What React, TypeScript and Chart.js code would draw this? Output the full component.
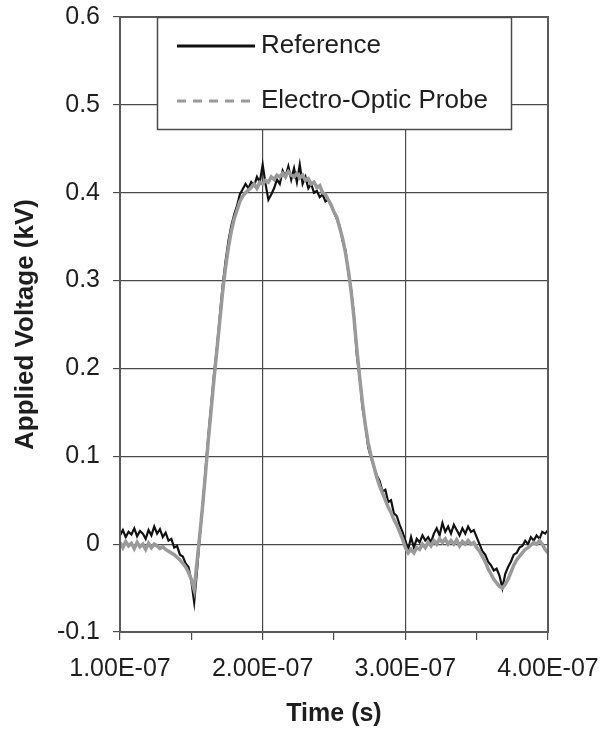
import React, { useEffect, useRef } from "react";
import { Chart, registerables } from "chart.js";

Chart.register(...registerables);

// Time in ns (label shown in seconds)
const timeNs: number[] = [
  100, 102, 104, 106, 108, 110, 112, 114, 116, 118,
  120, 122, 124, 126, 128, 130, 132, 134, 136, 138,
  140, 142, 144, 146, 148, 150, 152, 154, 156, 158,
  160, 162, 164, 166, 168, 170, 172, 174, 176, 178,
  180, 182, 184, 186, 188, 190, 192, 194, 196, 198,
  200, 202, 204, 206, 208, 210, 212, 214, 216, 218,
  220, 222, 224, 226, 228, 230, 232, 234, 236, 238,
  240, 242, 244, 246, 248, 250, 252, 254, 256, 258,
  260, 262, 264, 266, 268, 270, 272, 274, 276, 278,
  280, 282, 284, 286, 288, 290, 292, 294, 296, 298,
  300, 302, 304, 306, 308, 310, 312, 314, 316, 318,
  320, 322, 324, 326, 328, 330, 332, 334, 336, 338,
  340, 342, 344, 346, 348, 350, 352, 354, 356, 358,
  360, 362, 364, 366, 368, 370, 372, 374, 376, 378,
  380, 382, 384, 386, 388, 390, 392, 394, 396, 398,
  400,
];

const referenceKV: number[] = [
  0.010, 0.016, 0.008, 0.014, 0.011, 0.018, 0.009, 0.015, 0.012, 0.006,
  0.016, 0.010, 0.020, 0.012, 0.017, 0.008, 0.013, 0.004, 0.006, -0.004,
  -0.002, -0.012, -0.014, -0.022, -0.026, -0.042, -0.066, -0.030, 0.010, 0.045,
  0.085, 0.125, 0.160, 0.195, 0.225, 0.260, 0.295, 0.322, 0.345, 0.362,
  0.375, 0.385, 0.398, 0.404, 0.410, 0.405, 0.412, 0.408, 0.418, 0.412,
  0.432, 0.410, 0.392, 0.398, 0.405, 0.415, 0.410, 0.425, 0.418, 0.430,
  0.415, 0.428, 0.412, 0.432, 0.410, 0.418, 0.405, 0.410, 0.400, 0.402,
  0.395, 0.398, 0.390, 0.392, 0.385, 0.378, 0.370, 0.362, 0.345, 0.335,
  0.310, 0.290, 0.260, 0.215, 0.190, 0.155, 0.135, 0.110, 0.098, 0.088,
  0.078, 0.072, 0.060, 0.062, 0.048, 0.050, 0.035, 0.032, 0.022, 0.014,
  0.004, -0.006, 0.008, -0.004, 0.006, 0.002, 0.010, 0.004, 0.008, 0.002,
  0.012, 0.018, 0.010, 0.024, 0.014, 0.020, 0.012, 0.022, 0.016, 0.010,
  0.018, 0.012, 0.020, 0.014, 0.016, 0.008, 0.000, -0.008, -0.012, -0.020,
  -0.024, -0.030, -0.028, -0.036, -0.050, -0.034, -0.026, -0.020, -0.012, -0.010,
  -0.004, -0.002, 0.004, 0.000, 0.008, 0.004, 0.010, 0.006, 0.014, 0.012,
  0.016,
];

const probeKV: number[] = [
  0.002, -0.004, 0.003, -0.002, 0.001, -0.005, 0.002, -0.003, 0.000, -0.006,
  0.001, -0.004, 0.000, -0.002, -0.005, -0.003, -0.006, -0.008, -0.010, -0.012,
  -0.015, -0.018, -0.022, -0.026, -0.032, -0.040, -0.052, -0.020, 0.012, 0.045,
  0.082, 0.120, 0.155, 0.190, 0.222, 0.255, 0.288, 0.315, 0.338, 0.356,
  0.370, 0.380, 0.390, 0.396, 0.400, 0.403, 0.406, 0.410, 0.405, 0.412,
  0.410, 0.414, 0.412, 0.418, 0.415, 0.420, 0.418, 0.422, 0.418, 0.424,
  0.420, 0.418, 0.422, 0.417, 0.420, 0.414, 0.416, 0.410, 0.412, 0.406,
  0.408, 0.400, 0.398, 0.392, 0.386, 0.378, 0.372, 0.360, 0.348, 0.332,
  0.312, 0.288, 0.258, 0.222, 0.190, 0.160, 0.135, 0.115, 0.100, 0.088,
  0.076, 0.066, 0.058, 0.050, 0.042, 0.036, 0.028, 0.022, 0.014, 0.006,
  -0.004, -0.010, -0.006, -0.010, -0.004, -0.006, 0.000, -0.004, 0.002, -0.002,
  0.004, 0.000, 0.006, 0.002, 0.006, 0.000, 0.004, 0.000, 0.005, -0.002,
  0.003, 0.000, 0.004, 0.000, 0.002, -0.004, -0.008, -0.014, -0.020, -0.028,
  -0.034, -0.040, -0.044, -0.048, -0.050, -0.046, -0.040, -0.032, -0.024, -0.018,
  -0.014, -0.010, -0.006, -0.004, -0.001, 0.002, 0.000, 0.004, 0.000, -0.006,
  -0.010,
];

const seriesNames: string[] = ["Reference", "Electro-Optic Probe"];
const xTickLabels: string[] = ["1.00E-07", "2.00E-07", "3.00E-07", "4.00E-07"];
const yTickLabels: string[] = ["-0.1", "0", "0.1", "0.2", "0.3", "0.4", "0.5", "0.6"];
const xTitle = "Time (s)";
const yTitle = "Applied Voltage (kV)";

const FONT = "'Liberation Sans', Arial, Helvetica, sans-serif";
const GRID = "#4a4a4a";
const TEXT = "#1e1e1e";
const PROBE_GREY = "#9a9a9a";

const frameAndLegend = {
  id: "frameAndLegend",
  afterDraw(chart: any) {
    const { ctx, chartArea } = chart;
    const { left, top, right, bottom } = chartArea;
    ctx.save();
    // plot frame
    ctx.strokeStyle = "#5a5a5a";
    ctx.lineWidth = 2;
    ctx.strokeRect(left, top, right - left, bottom - top);

    // legend box
    const bx = left + 37;
    const by = top;
    const bw = 354;
    const bh = 112;
    ctx.fillStyle = "#ffffff";
    ctx.fillRect(bx, by, bw, bh);
    ctx.strokeStyle = "#4a4a4a";
    ctx.lineWidth = 1.5;
    ctx.strokeRect(bx + 0.5, by + 0.5, bw, bh);

    const lx0 = bx + 20;
    const lx1 = bx + 98;
    const y1 = by + 29;
    const y2 = by + 84;
    ctx.lineCap = "butt";
    ctx.strokeStyle = "#111111";
    ctx.lineWidth = 3;
    ctx.beginPath();
    ctx.moveTo(lx0, y1);
    ctx.lineTo(lx1, y1);
    ctx.stroke();

    ctx.strokeStyle = PROBE_GREY;
    ctx.lineWidth = 3;
    ctx.setLineDash([9, 7]);
    ctx.beginPath();
    ctx.moveTo(lx0, y2);
    ctx.lineTo(lx1, y2);
    ctx.stroke();
    ctx.setLineDash([]);

    ctx.fillStyle = TEXT;
    ctx.font = `26px ${FONT}`;
    ctx.textAlign = "left";
    ctx.textBaseline = "middle";
    ctx.fillText(seriesNames[0], lx1 + 6, y1);
    ctx.fillText(seriesNames[1], lx1 + 6, y2);
    ctx.restore();
  },
};

export default function App() {
  const canvasRef = useRef<HTMLCanvasElement | null>(null);

  useEffect(() => {
    const canvas = canvasRef.current;
    if (!canvas) return;
    const chart = new Chart(canvas, {
      type: "line",
      data: {
        datasets: [
          {
            label: seriesNames[0],
            data: timeNs.map((t, i) => ({ x: t, y: referenceKV[i] })),
            borderColor: "#111111",
            borderWidth: 2.2,
            pointRadius: 0,
            tension: 0,
            order: 1,
          },
          {
            label: seriesNames[1],
            data: timeNs.map((t, i) => ({ x: t, y: probeKV[i] })),
            borderColor: PROBE_GREY,
            borderWidth: 3.5,
            pointRadius: 0,
            tension: 0,
            order: 0,
          },
        ],
      },
      options: {
        animation: false,
        responsive: false,
        devicePixelRatio: 1,
        layout: { padding: { top: 17, right: 66, left: 0, bottom: 0 } },
        plugins: {
          legend: { display: false },
          tooltip: { enabled: false },
        },
        scales: {
          x: {
            type: "linear",
            min: 100,
            max: 400,
            afterFit: (scale: any) => {
              scale.height = 98;
              scale.paddingLeft = 0;
              scale.paddingRight = 0;
            },
            ticks: {
              stepSize: 50,
              autoSkip: false,
              maxRotation: 0,
              minRotation: 0,
              padding: 14,
              color: TEXT,
              font: { family: FONT, size: 25 },
              callback: (value: any) => {
                const v = Number(value);
                if (Math.abs(v % 100) > 1e-6) return "";
                return xTickLabels[Math.round((v - 100) / 100)];
              },
            },
            grid: {
              color: (ctx: any) =>
                ctx.tick && Math.abs(ctx.tick.value % 100) < 1e-6 ? GRID : "rgba(0,0,0,0)",
              tickColor: GRID,
              lineWidth: 1.2,
              tickLength: 8,
              drawTicks: true,
            },
            border: { display: false },
            title: {
              display: true,
              text: xTitle,
              color: TEXT,
              font: { family: FONT, size: 25, weight: "bold" },
              padding: { top: 0, bottom: 1 },
            },
          },
          y: {
            type: "linear",
            min: -0.1,
            max: 0.6,
            afterFit: (scale: any) => {
              scale.width = 120;
              scale.paddingTop = 0;
              scale.paddingBottom = 0;
            },
            ticks: {
              stepSize: 0.1,
              padding: 13,
              color: TEXT,
              font: { family: FONT, size: 25 },
              callback: (_v: any, index: number) => yTickLabels[index],
            },
            grid: {
              color: GRID,
              tickColor: GRID,
              lineWidth: 1.2,
              tickLength: 7,
              drawTicks: true,
            },
            border: { display: false },
            title: {
              display: true,
              text: yTitle,
              color: TEXT,
              font: { family: FONT, size: 26, weight: "bold" },
              padding: { top: 10, bottom: 0 },
            },
          },
        },
      },
      plugins: [frameAndLegend],
    });
    return () => chart.destroy();
  }, []);

  return (
    <div style={{ position: "fixed", left: 0, top: 0, width: 614, height: 730, background: "#fff" }}>
      <canvas ref={canvasRef} width={614} height={730} style={{ display: "block" }} />
    </div>
  );
}
